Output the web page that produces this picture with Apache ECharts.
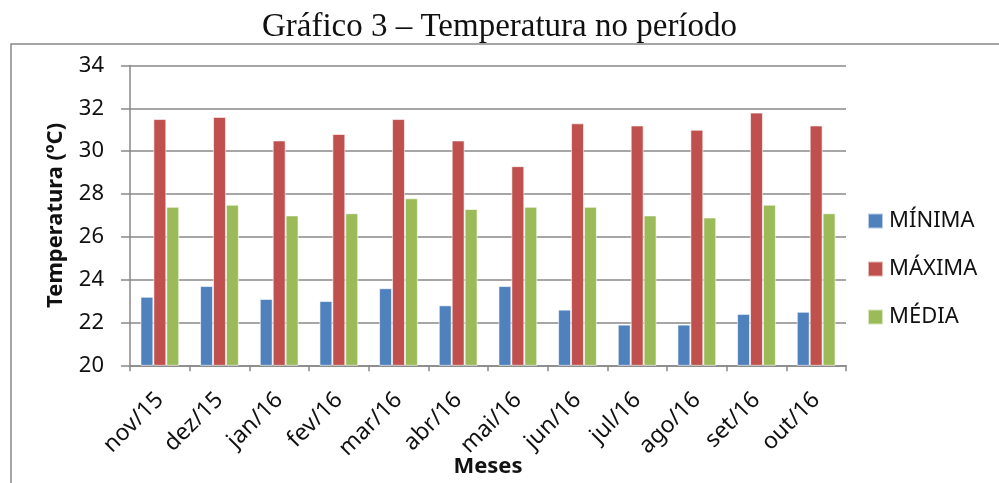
<!DOCTYPE html>
<html><head><meta charset="utf-8">
<script src="https://cdn.jsdelivr.net/npm/echarts@6/dist/echarts.min.js"></script>
<style>html,body{margin:0;padding:0;background:#fff}#c{width:999px;height:483px}</style>
</head><body><div id="c"></div>
<script>
const categories = ['nov/15','dez/15','jan/16','fev/16','mar/16','abr/16','mai/16','jun/16','jul/16','ago/16','set/16','out/16'];
const minima = [23.2,23.7,23.1,23.0,23.6,22.8,23.7,22.6,21.9,21.9,22.4,22.5];
const maxima = [31.5,31.6,30.5,30.8,31.5,30.5,29.3,31.3,31.2,31.0,31.8,31.2];
const media  = [27.4,27.5,27.0,27.1,27.8,27.3,27.4,27.4,27.0,26.9,27.5,27.1];
const seriesNames = ['MÍNIMA','MÁXIMA','MÉDIA'];
const yTicks = {min:20, max:34, interval:2};

const chart = echarts.init(document.getElementById('c'));
const font = '"Noto Sans", "Open Sans", sans-serif';
const bar = (name, data, color) => ({
  name, type:'bar', data, barGap:'0%', barCategoryGap:'35%',
  itemStyle:{color, borderColor:'rgba(255,255,255,0.6)', borderWidth:1}
});
chart.setOption({
  animation:false,
  title:{text:'Gráfico 3 – Temperatura no período', left:'center', top:6,
    textStyle:{fontFamily:'"Liberation Serif", "DejaVu Serif", serif', fontWeight:'normal', fontSize:33, color:'#111'}},
  graphic:[{type:'rect', shape:{x:11, y:44, width:1000, height:460},
    style:{fill:'none', stroke:'#888', lineWidth:1.5}, silent:true}],
  legend:{orient:'vertical', left:862, top:205, itemWidth:15, itemHeight:15, itemGap:26,
    icon:'rect', textStyle:{fontFamily:font, fontSize:22, color:'#111', padding:[0,0,0,1]}},
  grid:{left:130, right:153, top:65.5, bottom:117.7, outerBoundsMode:'none', containLabel:false},
  xAxis:{type:'category', data:categories,
    name:'Meses', nameLocation:'middle', nameGap:90, nameMoveOverlap:false,
    nameTextStyle:{fontFamily:font, fontWeight:'bold', fontSize:22, color:'#111'},
    axisLine:{lineStyle:{color:'#888', width:1.5}},
    axisTick:{show:true, length:6, lineStyle:{color:'#888', width:1.5}},
    axisLabel:{rotate:45, fontFamily:font, fontSize:23, color:'#111', margin:31, interval:0}},
  yAxis:{type:'value', min:yTicks.min, max:yTicks.max, interval:yTicks.interval,
    name:'Temperatura (ºC)', nameLocation:'middle', nameGap:63, nameMoveOverlap:false,
    nameTextStyle:{fontFamily:font, fontWeight:'bold', fontSize:22, color:'#111'},
    axisLine:{show:true, lineStyle:{color:'#888', width:1.5}},
    axisTick:{show:true, inside:false, length:9, lineStyle:{color:'#888', width:1.5}},
    axisLabel:{fontFamily:font, fontSize:22, color:'#111', margin:26},
    splitLine:{lineStyle:{color:'#888', width:1.5}}},
  series:[bar(seriesNames[0], minima, '#4F81BD'), bar(seriesNames[1], maxima, '#C0504D'), bar(seriesNames[2], media, '#9BBB59')]
});
</script></body></html>
